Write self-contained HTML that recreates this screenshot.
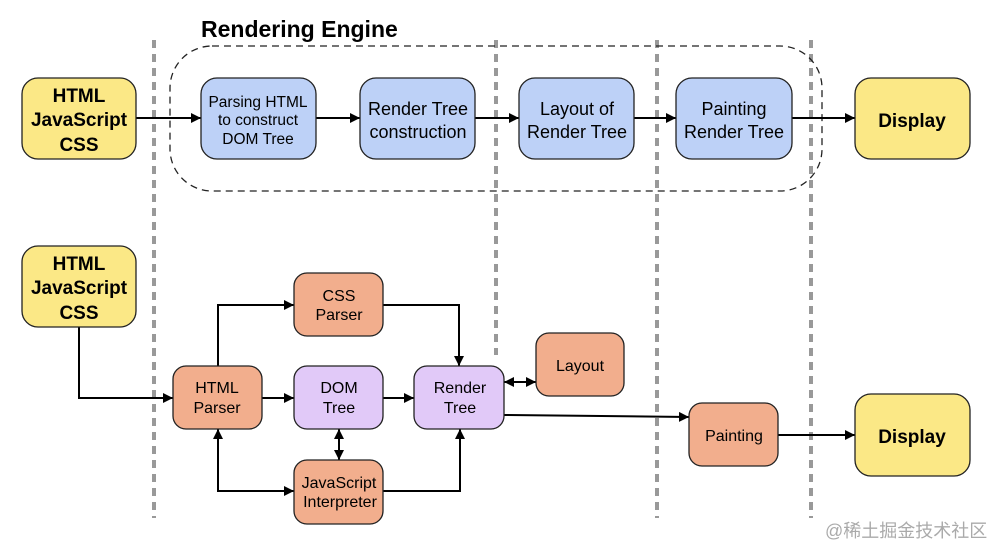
<!DOCTYPE html>
<html><head><meta charset="utf-8"><style>
body{margin:0;background:#fff;}
svg text{font-family:"Liberation Sans",Arial,sans-serif;}
</style></head><body>
<svg width="993" height="548" viewBox="0 0 993 548" xmlns="http://www.w3.org/2000/svg">
<defs>
<marker id="a" viewBox="0 0 10 10" refX="10" refY="5" markerWidth="10" markerHeight="10" markerUnits="userSpaceOnUse" orient="auto-start-reverse"><path d="M0,0L10,5L0,10z" fill="#000"/></marker>
</defs>
<g stroke="#999" stroke-width="4" stroke-dasharray="8,6">
<line x1="154" y1="40" x2="154" y2="518"/>
<line x1="496" y1="40" x2="496" y2="355"/>
<line x1="657" y1="40" x2="657" y2="518"/>
<line x1="811" y1="40" x2="811" y2="518"/>
</g>
<rect x="170" y="46" width="652" height="145" rx="42" fill="none" stroke="#222" stroke-width="1.3" stroke-dasharray="7,5"/>
<text x="201" y="37" font-size="23" font-weight="bold">Rendering Engine</text>
<g stroke="#000" stroke-width="2" fill="none">
<line x1="136" y1="118" x2="201" y2="118" marker-end="url(#a)"/>
<line x1="316" y1="118" x2="360" y2="118" marker-end="url(#a)"/>
<line x1="475" y1="118" x2="519" y2="118" marker-end="url(#a)"/>
<line x1="634" y1="118" x2="676" y2="118" marker-end="url(#a)"/>
<line x1="792" y1="118" x2="855" y2="118" marker-end="url(#a)"/>
<polyline points="79,327 79,398 173,398" marker-end="url(#a)"/>
<polyline points="218,366 218,305 294,305" marker-end="url(#a)"/>
<polyline points="383,305 459,305 459,366" marker-end="url(#a)"/>
<line x1="262" y1="398" x2="294" y2="398" marker-end="url(#a)"/>
<line x1="383" y1="398" x2="414" y2="398" marker-end="url(#a)"/>
<line x1="339" y1="429" x2="339" y2="460" marker-start="url(#a)" marker-end="url(#a)"/>
<polyline points="218,429 218,491 294,491" marker-start="url(#a)" marker-end="url(#a)"/>
<polyline points="383,491 460,491 460,429" marker-end="url(#a)"/>
<line x1="504" y1="382" x2="536" y2="382" marker-start="url(#a)" marker-end="url(#a)"/>
<polyline points="504,415 689,417" marker-end="url(#a)"/>
<line x1="778" y1="435" x2="855" y2="435" marker-end="url(#a)"/>
</g>
<g stroke="#222" stroke-width="1.3">
<rect x="22" y="78" width="114" height="81" rx="16" fill="#fbe886"/>
<rect x="201" y="78" width="115" height="81" rx="16" fill="#bdd1f7"/>
<rect x="360" y="78" width="115" height="81" rx="16" fill="#bdd1f7"/>
<rect x="519" y="78" width="115" height="81" rx="16" fill="#bdd1f7"/>
<rect x="676" y="78" width="116" height="81" rx="16" fill="#bdd1f7"/>
<rect x="855" y="78" width="115" height="81" rx="16" fill="#fbe886"/>
<rect x="22" y="246" width="114" height="81" rx="16" fill="#fbe886"/>
<rect x="173" y="366" width="89" height="63" rx="13" fill="#f2ae8d"/>
<rect x="294" y="273" width="89" height="63" rx="13" fill="#f2ae8d"/>
<rect x="294" y="366" width="89" height="63" rx="13" fill="#e1c9f8"/>
<rect x="414" y="366" width="90" height="63" rx="13" fill="#e1c9f8"/>
<rect x="536" y="333" width="88" height="63" rx="13" fill="#f2ae8d"/>
<rect x="294" y="460" width="89" height="64" rx="13" fill="#f2ae8d"/>
<rect x="689" y="403" width="89" height="63" rx="13" fill="#f2ae8d"/>
<rect x="855" y="394" width="115" height="82" rx="16" fill="#fbe886"/>
</g>
<g text-anchor="middle" fill="#000">
<g font-size="19" font-weight="bold">
<text x="79" y="102">HTML</text><text x="79" y="126">JavaScript</text><text x="79" y="151">CSS</text>
<text x="79" y="270">HTML</text><text x="79" y="294">JavaScript</text><text x="79" y="319">CSS</text>
<text x="912" y="127">Display</text><text x="912" y="443">Display</text>
</g>
<g font-size="15.5">
<text x="258" y="107">Parsing HTML</text><text x="258" y="125">to construct</text><text x="258" y="144">DOM Tree</text>
</g>
<g font-size="18">
<text x="418" y="115">Render Tree</text><text x="418" y="138">construction</text>
<text x="577" y="115">Layout of</text><text x="577" y="138">Render Tree</text>
<text x="734" y="115">Painting</text><text x="734" y="138">Render Tree</text>
</g>
<g font-size="16">
<text x="217" y="393">HTML</text><text x="217" y="413">Parser</text>
<text x="339" y="301">CSS</text><text x="339" y="320">Parser</text>
<text x="339" y="393">DOM</text><text x="339" y="413">Tree</text>
<text x="460" y="393">Render</text><text x="460" y="413">Tree</text>
<text x="580" y="371">Layout</text>
<text x="339" y="488">JavaScript</text><text x="340" y="507">Interpreter</text>
<text x="734" y="441">Painting</text>
</g>
</g>
<text x="825" y="537" font-size="18" fill="#aaa" style="font-family:'Liberation Sans','Noto Sans CJK SC',sans-serif">@稀土掘金技术社区</text>
</svg>
</body></html>
